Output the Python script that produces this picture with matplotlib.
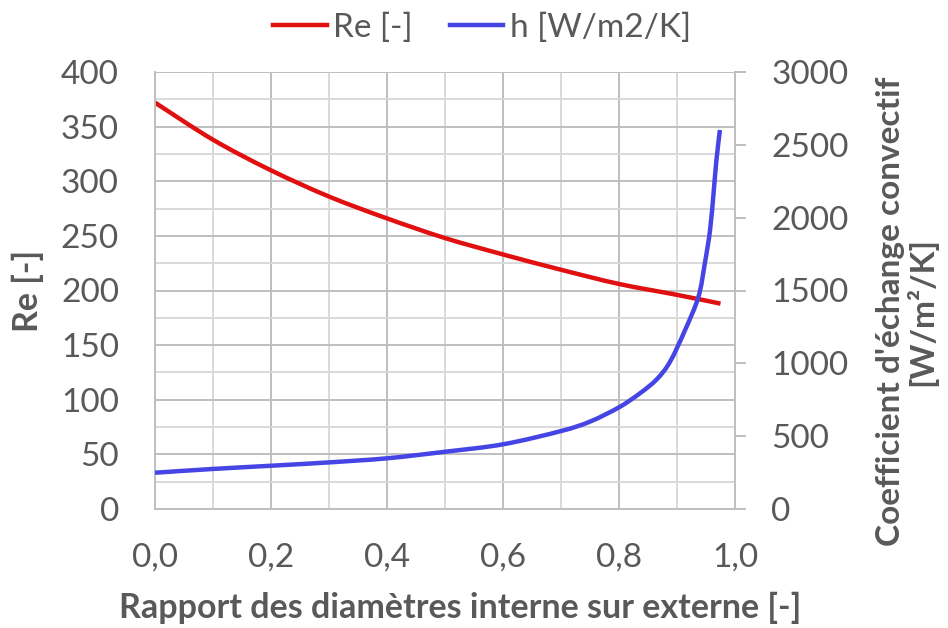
import matplotlib.pyplot as plt
from matplotlib.lines import Line2D
from matplotlib.patches import PathPatch
from matplotlib.path import Path
from matplotlib.ticker import MultipleLocator, FuncFormatter

# diameter ratio (inner / outer)
ratio_re = [0.0, 0.1, 0.2, 0.3, 0.4, 0.5, 0.6, 0.7, 0.8, 0.9, 0.975]
re_values = [372, 338, 310, 286, 266, 248, 233, 219, 206, 196, 188]

ratio_h = [0.0, 0.1, 0.2, 0.3, 0.4, 0.5, 0.6, 0.7, 0.75, 0.8, 0.836, 0.865,
           0.888, 0.914, 0.937, 0.948, 0.957, 0.963, 0.968, 0.974]
h_values = [249, 275, 297, 320, 348, 393, 444, 535, 600, 698, 794, 890,
            1011, 1229, 1457, 1687, 1915, 2167, 2396, 2602]

plt.rcParams['font.family'] = ['Lato', 'DejaVu Sans']
gray_txt = '#595959'
red = '#E01010'
blue = '#4545E6'
fs = 24


def smooth_path(xs, ys):
    # Catmull-Rom style bezier through every point (like a "smoothed line")
    pts = list(zip(xs, ys))
    verts = [pts[0]]
    codes = [Path.MOVETO]
    n = len(pts)
    for i in range(n - 1):
        p0 = pts[max(i - 1, 0)]
        p1 = pts[i]
        p2 = pts[i + 1]
        p3 = pts[min(i + 2, n - 1)]
        c1 = (p1[0] + (p2[0] - p0[0]) / 6, p1[1] + (p2[1] - p0[1]) / 6)
        c2 = (p2[0] - (p3[0] - p1[0]) / 6, p2[1] - (p3[1] - p1[1]) / 6)
        verts += [c1, c2, p2]
        codes += [Path.CURVE4] * 3
    return Path(verts, codes)


fig = plt.figure(figsize=(9.48, 6.28), dpi=100)
ax = fig.add_axes([155 / 948, 1 - 509 / 628, 580 / 948, 437 / 628])
ax2 = ax.twinx()

ax.add_patch(PathPatch(smooth_path(ratio_re, re_values), fill=False, edgecolor=red,
                       lw=3.2, capstyle='butt'))
ax2.add_patch(PathPatch(smooth_path(ratio_h, h_values), fill=False, edgecolor=blue,
                        lw=3.2, capstyle='butt'))

ax.set_xlim(0, 1)
ax.set_ylim(0, 400)
ax2.set_ylim(0, 3000)

# grid: major and minor lines
ax.xaxis.set_major_locator(MultipleLocator(0.2))
ax.xaxis.set_minor_locator(MultipleLocator(0.1))
ax.yaxis.set_major_locator(MultipleLocator(50))
ax.yaxis.set_minor_locator(MultipleLocator(25))
ax2.yaxis.set_major_locator(MultipleLocator(500))
ax.grid(which='major', color='#BFBFBF', lw=1.4)
ax.grid(which='minor', color='#D9D9D9', lw=1.4)
ax.set_axisbelow(True)

ax.xaxis.set_major_formatter(FuncFormatter(lambda v, p: f'{v:.1f}'.replace('.', ',')))

for a in (ax, ax2):
    for s in a.spines.values():
        s.set_visible(False)
ax.spines['left'].set_visible(True)
ax.spines['bottom'].set_visible(True)
ax2.spines['right'].set_visible(True)
for s in (ax.spines['left'], ax.spines['bottom'], ax2.spines['right']):
    s.set_color('#BFBFBF')
    s.set_linewidth(1.4)

ax.tick_params(axis='both', which='both', length=0, labelsize=fs, labelcolor=gray_txt)
ax.tick_params(axis='y', pad=26)
ax.tick_params(axis='x', pad=24)
ax2.tick_params(axis='y', which='major', length=8, width=1.4, color='#BFBFBF',
                labelsize=fs, labelcolor=gray_txt, pad=18)

ax.set_xlabel('Rapport des diamètres interne sur externe [-]', fontsize=24.5,
              fontweight='bold', color=gray_txt, labelpad=14, x=0.526)
ax.set_ylabel('Re [-]', fontsize=24.5, fontweight='bold', color=gray_txt, labelpad=12)
ax2.set_ylabel("Coefficient d'échange convectif\n[W/m²/K]", fontsize=24,
               fontweight='bold', color=gray_txt, labelpad=20, linespacing=1.0, y=0.453)

handles = [Line2D([], [], color=red, lw=3.2, label='Re [-]'),
           Line2D([], [], color=blue, lw=3.2, label='h [W/m2/K]')]
fig.legend(handles=handles, loc='center', bbox_to_anchor=(482 / 948, 1 - 28 / 628),
           ncol=2, frameon=False, fontsize=fs, labelcolor=gray_txt,
           handlelength=1.6, handletextpad=0.2, columnspacing=1.1)

fig.savefig('out.png', dpi=100)
